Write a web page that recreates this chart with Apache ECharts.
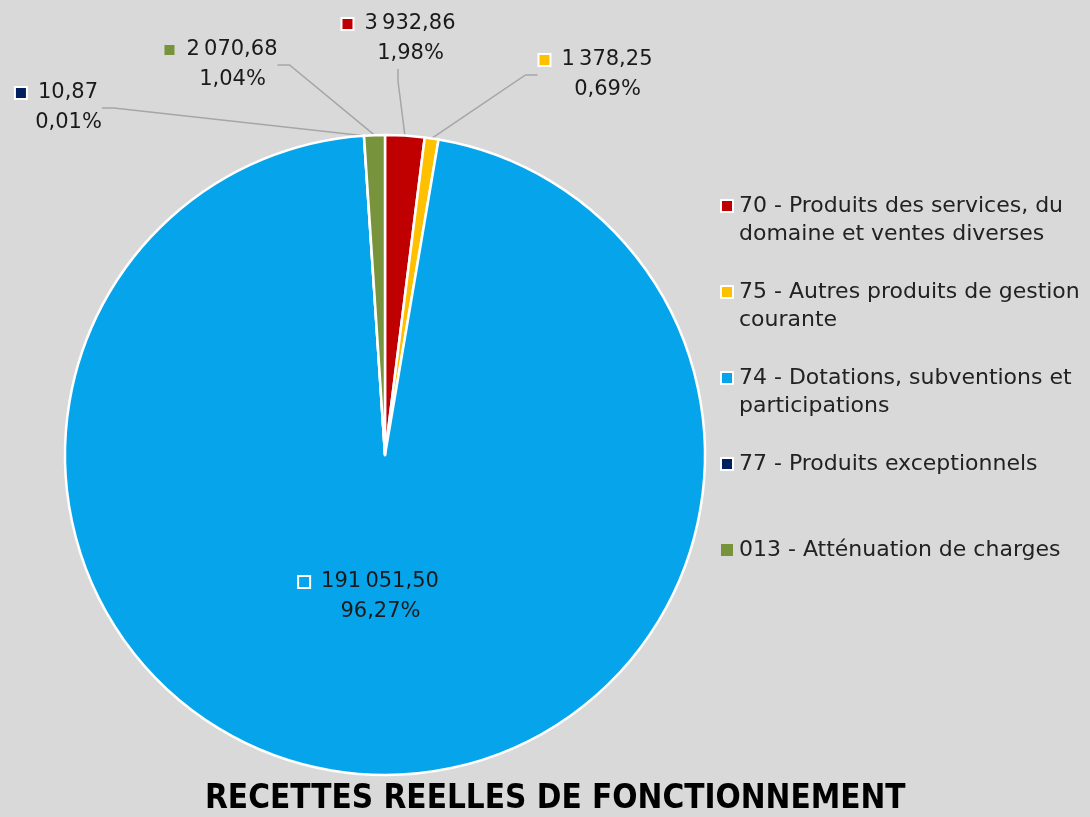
<!DOCTYPE html>
<html>
<head>
<meta charset="utf-8">
<script src="https://cdn.jsdelivr.net/npm/echarts@6/dist/echarts.min.js"></script>
<style>
  html, body { margin: 0; padding: 0; background: #d9d9d9; }
  #recettes { width: 1090px; height: 817px; }
</style>
</head>
<body>
<div id="recettes"></div>
<script>
var categories = [
  '70 - Produits des services, du\ndomaine et ventes diverses',
  '75 - Autres produits de gestion\ncourante',
  '74 - Dotations, subventions et\nparticipations',
  '77 - Produits exceptionnels',
  '013 - Atténuation de charges'
];
var amounts = [3932.86, 1378.25, 191051.50, 10.87, 2070.68];
var colors = ['#c00000', '#ffc000', '#06a5eb', '#002060', '#77933c'];
// centre de chaque bloc d'étiquette
var labelSpots = [[399, 39], [596, 75], [369, 597], [57, 108], [221, 65]];

var chartDom = document.getElementById('recettes');
var myChart = echarts.init(chartDom);
var font = 'DejaVu Sans';
var total = amounts.reduce(function (a, b) { return a + b; }, 0);

function frNumber(v) {
  var parts = v.toFixed(2).split('.');
  var ent = parts[0].replace(/\B(?=(\d{3})+(?!\d))/g, '\u2009');
  return ent + ',' + parts[1];
}

var noBorder = { 4: true };

var pieData = categories.map(function (name, i) {
  var item = {
    name: name,
    value: amounts[i],
    itemStyle: { color: colors[i] }
  };
  if (i === 2) {
    item.label = { position: 'inside' };
  }
  return item;
});

var richMarks = {
  gap: { width: 23 }
};
colors.forEach(function (c, i) {
  richMarks['m' + i] = {
    width: 10,
    height: 10,
    backgroundColor: c,
    borderColor: '#fff',
    borderWidth: noBorder[i] ? 0 : 2
  };
  richMarks['s' + i] = { width: 12 };
});

var option = {
  backgroundColor: '#d9d9d9',
  title: {
    text: 'RECETTES REELLES DE FONCTIONNEMENT',
    left: 205,
    top: 783,
    padding: 0,
    textStyle: {
      fontFamily: '"DejaVu Sans Condensed", "Liberation Sans", sans-serif',
      fontWeight: 'bold',
      fontSize: 33,
      color: '#000'
    }
  },
  legend: {
    orient: 'vertical',
    left: 715,
    top: 159,
    itemWidth: 12,
    itemHeight: 12,
    itemGap: 2,
    icon: 'rect',
    selectedMode: false,
    data: categories.map(function (name, i) {
      return {
        name: name,
        itemStyle: {
          color: colors[i],
          borderColor: '#fff',
          borderWidth: noBorder[i] ? 0 : 2
        }
      };
    }),
    formatter: function (name) {
      // une ligne vide au-dessus pour caler l'icône sur la 1re ligne
      return name.indexOf('\n') < 0 ? ' \n' + name + '\n ' : ' \n' + name;
    },
    textStyle: {
      fontFamily: font,
      fontSize: 22,
      lineHeight: 28,
      color: '#222',
      padding: [0, 0, 0, 1]
    }
  },
  series: [
    {
      type: 'pie',
      center: [385, 455],
      radius: 320,
      startAngle: 90,
      clockwise: true,
      avoidLabelOverlap: false,
      data: pieData,
      itemStyle: {
        borderColor: '#fff',
        borderWidth: 2.5
      },
      label: {
        show: true,
        position: 'outside',
        fontFamily: font,
        fontSize: 21,
        lineHeight: 30,
        color: '#1a1a1a',
        align: 'center',
        formatter: function (p) {
          var pct = (p.value / total * 100).toFixed(2).replace('.', ',');
          return '{m' + p.dataIndex + '|}{s' + p.dataIndex + '|}' + frNumber(p.value) +
            '\n{gap|}' + pct + '%';
        },
        rich: richMarks
      },
      labelLine: {
        show: true,
        length: 40,
        length2: 12,
        lineStyle: { color: '#a6a6a6', width: 1.5 }
      },
      labelLayout: function (params) {
        var spot = labelSpots[params.dataIndex];
        if (!spot) return {};
        return {
          x: spot[0],
          y: spot[1],
          align: 'center',
          verticalAlign: 'middle'
        };
      }
    }
  ]
};

option && myChart.setOption(option);
</script>
</body>
</html>
